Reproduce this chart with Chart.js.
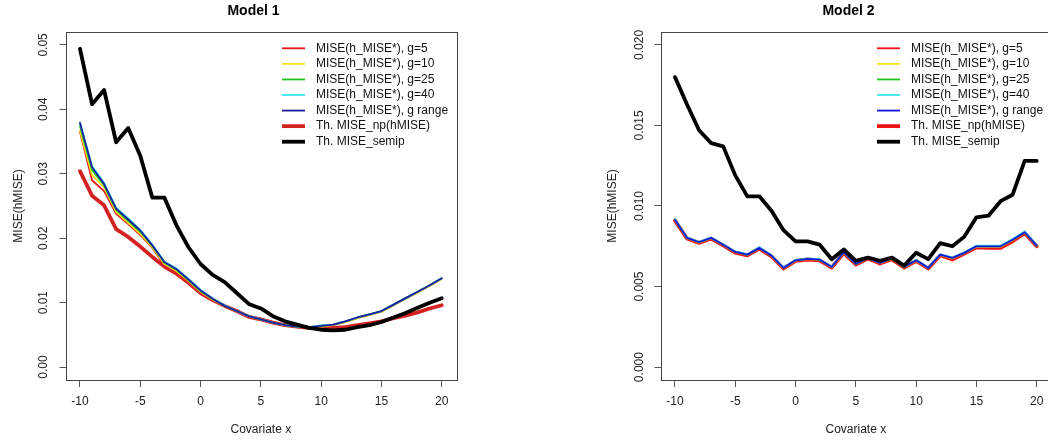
<!DOCTYPE html>
<html>
<head>
<meta charset="utf-8">
<script src="https://cdn.jsdelivr.net/npm/chart.js@4.4.1/dist/chart.umd.min.js"></script>
<style>
  html, body { margin: 0; padding: 0; background: #fff; overflow: hidden; width: 1048px; height: 441px; }
  canvas { position: absolute; top: 0; }
  #chart-model1 { left: 0; }
  #chart-model2 { left: 540px; }
</style>
</head>
<body>
<canvas id="chart-model1" width="520" height="441"></canvas>
<canvas id="chart-model2" width="524" height="441"></canvas>
<script>
// Covariate grid (x axis)
const xValues = [-10, -9, -8, -7, -6, -5, -4, -3, -2, -1, 0, 1, 2, 3, 4, 5, 6, 7, 8, 9, 10, 11, 12, 13, 14, 15, 16, 17, 18, 19, 20];
const xTicks = [-10, -5, 0, 5, 10, 15, 20];

const legendLabels = [
    'MISE(h_MISE*), g=5',
    'MISE(h_MISE*), g=10',
    'MISE(h_MISE*), g=25',
    'MISE(h_MISE*), g=40',
    'MISE(h_MISE*), g range',
    'Th. MISE_np(hMISE)',
    'Th. MISE_semip'
];

// Model 1
const m1G5 = [0.0365, 0.0290, 0.0273, 0.0238, 0.0222, 0.0205, 0.0185, 0.0158, 0.0148, 0.0133, 0.0116, 0.0105, 0.0095, 0.0087, 0.0079, 0.0074, 0.0069, 0.0065, 0.0063, 0.0062, 0.0063, 0.0065, 0.0070, 0.0076, 0.0081, 0.0086, 0.0096, 0.0106, 0.0116, 0.0126, 0.0137];
const m1G10 = [0.0367, 0.0298, 0.0279, 0.0241, 0.0224, 0.0207, 0.0186, 0.0160, 0.0149, 0.0134, 0.0117, 0.0105, 0.0095, 0.0087, 0.0079, 0.0074, 0.0069, 0.0065, 0.0063, 0.0062, 0.0063, 0.0065, 0.0070, 0.0076, 0.0081, 0.0086, 0.0096, 0.0106, 0.0116, 0.0126, 0.0137];
const m1G25 = [0.0374, 0.0306, 0.0282, 0.0244, 0.0227, 0.0210, 0.0188, 0.0162, 0.0151, 0.0135, 0.0118, 0.0106, 0.0095, 0.0087, 0.0079, 0.0074, 0.0069, 0.0065, 0.0063, 0.0062, 0.0064, 0.0066, 0.0071, 0.0077, 0.0082, 0.0087, 0.0097, 0.0107, 0.0117, 0.0127, 0.0138];
const m1G40 = [0.0380, 0.0312, 0.0286, 0.0247, 0.0231, 0.0213, 0.0190, 0.0164, 0.0153, 0.0137, 0.0120, 0.0107, 0.0096, 0.0087, 0.0079, 0.0074, 0.0069, 0.0065, 0.0063, 0.0062, 0.0065, 0.0066, 0.0071, 0.0077, 0.0082, 0.0087, 0.0097, 0.0107, 0.0117, 0.0127, 0.0138];
const m1GRange = [0.0379, 0.0310, 0.0284, 0.0246, 0.0229, 0.0212, 0.0189, 0.0163, 0.0152, 0.0136, 0.0119, 0.0106, 0.0095, 0.0087, 0.0079, 0.0074, 0.0069, 0.0065, 0.0063, 0.0062, 0.0064, 0.0066, 0.0071, 0.0077, 0.0082, 0.0087, 0.0097, 0.0107, 0.0117, 0.0127, 0.0138];
const m1Np = [0.0304, 0.0266, 0.0251, 0.0214, 0.0202, 0.0187, 0.0171, 0.0156, 0.0145, 0.0131, 0.0115, 0.0104, 0.0095, 0.0087, 0.0078, 0.0074, 0.0069, 0.0065, 0.0063, 0.0061, 0.0061, 0.0061, 0.0062, 0.0065, 0.0068, 0.0071, 0.0076, 0.0080, 0.0085, 0.0091, 0.0096];
const m1Semip = [0.0494, 0.0408, 0.0430, 0.0349, 0.0371, 0.0328, 0.0263, 0.0263, 0.0220, 0.0186, 0.0160, 0.0143, 0.0132, 0.0115, 0.0098, 0.0091, 0.0079, 0.0071, 0.0066, 0.0061, 0.0058, 0.0057, 0.0058, 0.0062, 0.0065, 0.0070, 0.0077, 0.0084, 0.0092, 0.0100, 0.0107];
const m1YTicks = [0, 0.01, 0.02, 0.03, 0.04, 0.05];
const m1YLabels = ['0.00', '0.01', '0.02', '0.03', '0.04', '0.05'];

// Model 2
const m2G5 = [0.00911, 0.00799, 0.00772, 0.00799, 0.00757, 0.00712, 0.00695, 0.00737, 0.00689, 0.00613, 0.00661, 0.00669, 0.00664, 0.00619, 0.00709, 0.00638, 0.00675, 0.00644, 0.00670, 0.00619, 0.00660, 0.00613, 0.00695, 0.00670, 0.00706, 0.00745, 0.00742, 0.00742, 0.00783, 0.00833, 0.00751];
const m2G10 = [0.00913, 0.00800, 0.00773, 0.00800, 0.00758, 0.00713, 0.00696, 0.00738, 0.00690, 0.00614, 0.00661, 0.00670, 0.00665, 0.00620, 0.00711, 0.00639, 0.00676, 0.00645, 0.00672, 0.00620, 0.00661, 0.00614, 0.00696, 0.00675, 0.00707, 0.00747, 0.00747, 0.00747, 0.00788, 0.00835, 0.00752];
const m2G25 = [0.00915, 0.00802, 0.00775, 0.00802, 0.00760, 0.00715, 0.00698, 0.00740, 0.00692, 0.00616, 0.00663, 0.00672, 0.00667, 0.00622, 0.00713, 0.00641, 0.00678, 0.00647, 0.00674, 0.00622, 0.00663, 0.00616, 0.00698, 0.00678, 0.00709, 0.00750, 0.00750, 0.00750, 0.00791, 0.00837, 0.00754];
const m2G40 = [0.00918, 0.00805, 0.00778, 0.00805, 0.00763, 0.00718, 0.00701, 0.00745, 0.00695, 0.00619, 0.00666, 0.00675, 0.00670, 0.00625, 0.00716, 0.00644, 0.00681, 0.00650, 0.00677, 0.00625, 0.00666, 0.00619, 0.00701, 0.00681, 0.00712, 0.00754, 0.00754, 0.00754, 0.00795, 0.00842, 0.00758];
const m2GRange = [0.00915, 0.00802, 0.00775, 0.00802, 0.00760, 0.00715, 0.00698, 0.00740, 0.00692, 0.00616, 0.00663, 0.00672, 0.00667, 0.00622, 0.00713, 0.00641, 0.00678, 0.00647, 0.00674, 0.00622, 0.00663, 0.00616, 0.00698, 0.00678, 0.00709, 0.00750, 0.00750, 0.00750, 0.00791, 0.00837, 0.00754];
const m2Np = [0.00910, 0.00798, 0.00771, 0.00798, 0.00756, 0.00711, 0.00694, 0.00735, 0.00688, 0.00612, 0.00660, 0.00668, 0.00663, 0.00618, 0.00708, 0.00637, 0.00674, 0.00643, 0.00669, 0.00618, 0.00659, 0.00612, 0.00694, 0.00668, 0.00705, 0.00744, 0.00740, 0.00740, 0.00781, 0.00832, 0.00750];
const m2Semip = [0.0180, 0.0163, 0.0147, 0.0139, 0.0137, 0.0119, 0.0106, 0.0106, 0.0097, 0.0085, 0.0078, 0.0078, 0.0076, 0.0067, 0.0073, 0.0066, 0.0068, 0.0066, 0.0068, 0.0063, 0.0071, 0.0067, 0.0077, 0.0075, 0.0081, 0.0093, 0.0094, 0.0103, 0.0107, 0.0128, 0.0128];
const m2YTicks = [0, 0.005, 0.01, 0.015, 0.02];
const m2YLabels = ['0.000', '0.005', '0.010', '0.015', '0.020'];

const FONT = '"Liberation Sans", Arial, Helvetica, sans-serif';
Chart.defaults.font.family = FONT;
Chart.defaults.font.size = 12;

// R-style frame, title and in-plot legend
const rPlotPlugin = {
    id: 'rPlot',
    afterDraw(chart, args, opts) {
        const { ctx, chartArea: a } = chart;
        ctx.save();
        ctx.strokeStyle = '#444';
        ctx.lineWidth = 1;
        ctx.strokeRect(Math.round(a.left) + 0.5, Math.round(a.top) + 0.5, Math.round(a.right - a.left), Math.round(a.bottom - a.top));

        ctx.fillStyle = '#000';
        ctx.font = 'bold 14px ' + FONT;
        ctx.textAlign = 'center';
        ctx.textBaseline = 'middle';
        ctx.fillText(opts.title, opts.titleX, 11);

        ctx.font = '12px ' + FONT;
        ctx.textAlign = 'left';
        ctx.fillStyle = '#111';
        chart.data.datasets.forEach((ds, i) => {
            const y = 48.3 + i * 15.57;
            ctx.strokeStyle = ds.borderColor;
            ctx.lineWidth = ds.borderWidth;
            ctx.lineCap = 'butt';
            ctx.beginPath();
            ctx.moveTo(opts.legendX, y);
            ctx.lineTo(opts.legendX + 23, y);
            ctx.stroke();
            ctx.fillText(ds.label, opts.legendX + 34, y);
        });
        ctx.restore();
    }
};

function buildDatasets(series, colors) {
    // drawing order: black on top, thick red np at the bottom
    const drawOrder = [5, 4, 3, 2, 1, 6, 0];
    const widths = [1.8, 1.8, 1.8, 1.8, 1.8, 3.8, 3.8];
    return series.map((values, i) => ({
        label: legendLabels[i],
        data: values.map((v, j) => ({ x: xValues[j], y: v })),
        borderColor: colors[i],
        borderWidth: widths[i],
        pointRadius: 0,
        tension: 0,
        borderCapStyle: 'round',
        borderJoinStyle: 'round',
        order: drawOrder[i]
    }));
}

function makeChart(canvasId, p) {
    return new Chart(document.getElementById(canvasId), {
        type: 'line',
        data: { datasets: buildDatasets(p.series, p.colors) },
        options: {
            responsive: false,
            animation: false,
            devicePixelRatio: 1,
            layout: { padding: { top: 32, right: p.padRight, left: 0, bottom: 0 } },
            plugins: {
                legend: { display: false },
                tooltip: { enabled: false },
                rPlot: { title: p.title, titleX: p.titleX, legendX: p.legendX }
            },
            scales: {
                x: {
                    type: 'linear',
                    min: -11.2,
                    max: 21.2,
                    afterBuildTicks: s => { s.ticks = xTicks.map(v => ({ value: v })); },
                    afterFit: s => { s.height = 61; },
                    grid: { drawOnChartArea: false, drawTicks: true, tickLength: 7, tickColor: '#555' },
                    border: { display: false },
                    ticks: { color: '#222', padding: 7.5, maxRotation: 0, autoSkip: false, callback: v => String(v) },
                    title: { display: true, text: 'Covariate x', color: '#222', padding: { top: 0, bottom: 3.8 } }
                },
                y: {
                    type: 'linear',
                    min: p.yMin,
                    max: p.yMax,
                    afterBuildTicks: s => { s.ticks = p.yTicks.map(v => ({ value: v })); },
                    afterFit: s => { s.width = p.yWidth; },
                    grid: { drawOnChartArea: false, drawTicks: true, tickLength: 6, tickColor: '#555' },
                    border: { display: false },
                    ticks: {
                        color: '#222', minRotation: 90, maxRotation: 90, crossAlign: 'center',
                        padding: p.yTickPad, autoSkip: false,
                        callback: (v, i) => p.yLabels[i]
                    },
                    title: { display: true, text: 'MISE(hMISE)', color: '#222', padding: { top: p.yTitlePad, bottom: 0 } }
                }
            }
        },
        plugins: [rPlotPlugin]
    });
}

makeChart('chart-model1', {
    title: 'Model 1', titleX: 253.5, legendX: 282,
    series: [m1G5, m1G10, m1G25, m1G40, m1GRange, m1Np, m1Semip],
    colors: ['#e01a1a', '#f2e21a', '#22c322', '#3ce6ee', '#1c1c9c', '#d42222', '#000000'],
    yMin: -0.002, yMax: 0.052, yTicks: m1YTicks, yLabels: m1YLabels,
    yWidth: 65.5, yTickPad: 3.8, yTitlePad: 11, padRight: 63.8
});

makeChart('chart-model2', {
    title: 'Model 2', titleX: 308.5, legendX: 337,
    series: [m2G5, m2G10, m2G25, m2G40, m2GRange, m2Np, m2Semip],
    colors: ['#f01414', '#f5e61a', '#22c322', '#3ce6ee', '#1414d8', '#ee1111', '#000000'],
    yMin: -0.0008, yMax: 0.0208, yTicks: m2YTicks, yLabels: m2YLabels,
    yWidth: 120.5, yTickPad: 0.2, yTitlePad: 65.5, padRight: 12.8
});
</script>
</body>
</html>
